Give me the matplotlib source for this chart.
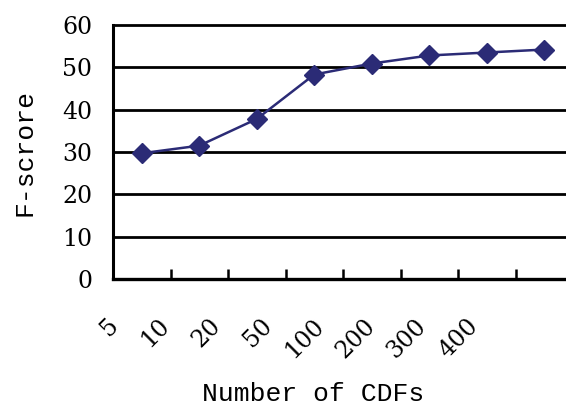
import numpy as np
import matplotlib
matplotlib.use("Agg")
import matplotlib.pyplot as plt

# categories on the x axis and F-score values
cdfs = ["5", "10", "20", "50", "100", "200", "300", "400"]
fscore = [29.7, 31.5, 37.8, 48.3, 50.9, 52.8, 53.5, 54.2]
yticks = [0, 10, 20, 30, 40, 50, 60]

navy = "#2B2B76"
W, H = 566, 408

fig = plt.figure(figsize=(W / 100, H / 100), dpi=100)
# plot area runs off the right edge like in the original
ax = fig.add_axes([113 / W, 1 - 279 / H, 460 / W, 254 / H])

x = np.arange(len(cdfs))
ax.plot(x, fscore, color=navy, lw=1.8, marker="D", ms=10, mfc=navy, mec=navy, zorder=3)

# horizontal gridlines in black
for v in yticks[1:]:
    ax.axhline(v, color="black", lw=2, zorder=1, clip_on=False)

for s in ["right", "top"]:
    ax.spines[s].set_visible(False)
ax.spines["left"].set_linewidth(2.2)
ax.spines["bottom"].set_linewidth(2.4)

ax.set_yticks(yticks)
ax.set_yticklabels([str(v) for v in yticks], fontsize=17, family="DejaVu Serif")
ax.tick_params(axis="y", length=0, pad=15)

# category boundary ticks pointing into the plot
ax.set_xticks(x[:-1] + 0.5)
ax.set_xticklabels([])
ax.tick_params(axis="x", which="major", direction="in", length=7, width=1.8)

ax.set_xlim(-0.5, len(cdfs) - 0.5)
ax.set_ylim(0, 60)

# rotated category labels, a bit tighter than the categories like the original
trans = ax.get_xaxis_transform()
for i, lab in enumerate(cdfs):
    ax.text(-0.61 + 0.893 * i, -0.138, lab, transform=trans, rotation=45,
            ha="right", va="top", rotation_mode="anchor", fontsize=17,
            family="DejaVu Serif", clip_on=False)

ax.set_xlabel("Number of CDFs", fontsize=19, family="Liberation Mono")
ax.xaxis.set_label_coords(0.435, -0.405)
ax.set_ylabel("F-scrore", fontsize=19, family="Liberation Mono")
ax.yaxis.set_label_coords(-0.167, 0.5)

fig.savefig("out.png", dpi=100)
